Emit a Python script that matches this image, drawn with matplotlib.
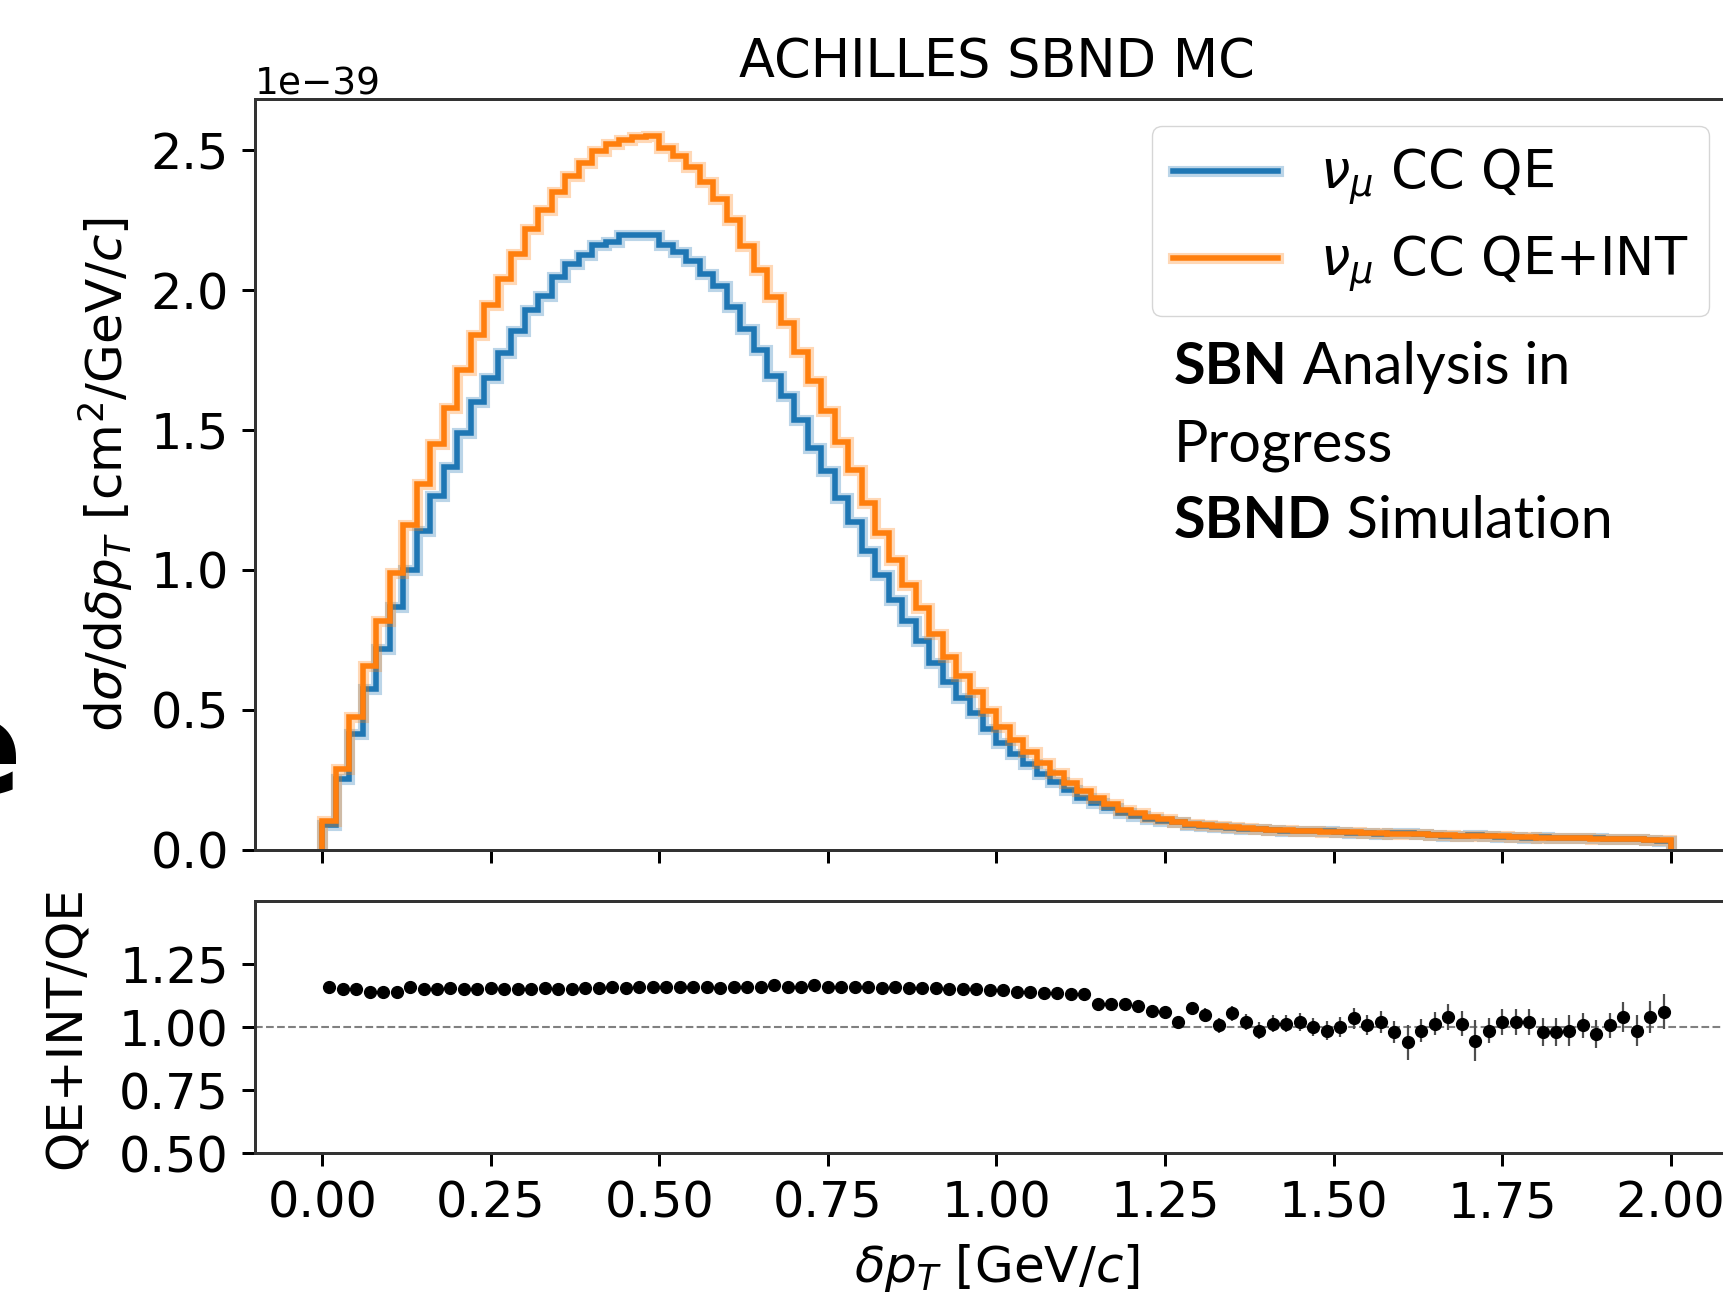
import numpy as np
import matplotlib.pyplot as plt
from matplotlib.lines import Line2D

# d sigma / d delta pT per 0.02 GeV/c bin, in units of 1e-39 cm^2/(GeV/c)
qe_int = [0.102, 0.289, 0.474, 0.655, 0.818, 0.988, 1.160, 1.308, 1.451, 1.578,
          1.713, 1.839, 1.948, 2.041, 2.130, 2.218, 2.285, 2.352, 2.406, 2.454,
          2.496, 2.521, 2.535, 2.546, 2.550, 2.507, 2.479, 2.440, 2.386, 2.327,
          2.252, 2.159, 2.072, 1.974, 1.881, 1.779, 1.674, 1.569, 1.456, 1.358,
          1.238, 1.133, 1.035, 0.945, 0.862, 0.772, 0.690, 0.622, 0.562, 0.494,
          0.437, 0.391, 0.349, 0.308, 0.272, 0.239, 0.210, 0.183, 0.163, 0.143,
          0.129, 0.117, 0.108, 0.099, 0.092, 0.088, 0.083, 0.080, 0.077, 0.074,
          0.071, 0.069, 0.067, 0.065, 0.064, 0.062, 0.061, 0.060, 0.058, 0.057,
          0.055, 0.054, 0.052, 0.051, 0.050, 0.049, 0.048, 0.047, 0.046, 0.044,
          0.043, 0.042, 0.041, 0.040, 0.039, 0.038, 0.037, 0.036, 0.035, 0.034]

qe = [0.088, 0.251, 0.412, 0.575, 0.718, 0.867, 1.000, 1.137, 1.262, 1.366,
      1.490, 1.599, 1.687, 1.775, 1.852, 1.929, 1.978, 2.045, 2.092, 2.125,
      2.161, 2.173, 2.195, 2.195, 2.198, 2.161, 2.137, 2.103, 2.057, 2.015,
      1.941, 1.861, 1.786, 1.694, 1.622, 1.534, 1.437, 1.353, 1.255, 1.171,
      1.067, 0.981, 0.892, 0.818, 0.746, 0.668, 0.600, 0.541, 0.489, 0.431,
      0.382, 0.343, 0.306, 0.271, 0.240, 0.212, 0.186, 0.168, 0.150, 0.131,
      0.119, 0.110, 0.102, 0.097, 0.086, 0.084, 0.082, 0.076, 0.075, 0.075,
      0.070, 0.068, 0.066, 0.065, 0.065, 0.062, 0.059, 0.060, 0.057, 0.058,
      0.059, 0.055, 0.051, 0.049, 0.049, 0.052, 0.049, 0.046, 0.045, 0.043,
      0.044, 0.043, 0.042, 0.040, 0.040, 0.038, 0.036, 0.037, 0.034, 0.032]

# QE+INT / QE ratio per bin, with its uncertainty
ratio = [1.16, 1.15, 1.15, 1.14, 1.14, 1.14, 1.16, 1.15, 1.15, 1.155,
         1.15, 1.15, 1.155, 1.15, 1.15, 1.15, 1.155, 1.15, 1.15, 1.155,
         1.155, 1.16, 1.155, 1.16, 1.16, 1.16, 1.16, 1.16, 1.16, 1.155,
         1.16, 1.16, 1.16, 1.165, 1.16, 1.16, 1.165, 1.16, 1.16, 1.16,
         1.16, 1.155, 1.16, 1.155, 1.155, 1.155, 1.15, 1.15, 1.15, 1.145,
         1.145, 1.14, 1.14, 1.135, 1.135, 1.13, 1.13, 1.09, 1.09, 1.09,
         1.085, 1.065, 1.06, 1.02, 1.075, 1.047, 1.007, 1.054, 1.02, 0.986,
         1.014, 1.014, 1.02, 1.0, 0.986, 1.0, 1.034, 1.007, 1.02, 0.98,
         0.94, 0.986, 1.014, 1.04, 1.014, 0.946, 0.986, 1.02, 1.02, 1.02,
         0.98, 0.98, 0.986, 1.007, 0.973, 1.007, 1.04, 0.986, 1.04, 1.061]

ratio_err = [0.012] * 50 + [0.013] * 7 + [0.018] * 7 + \
    [0.025, 0.028, 0.03, 0.03, 0.03, 0.032, 0.032, 0.035, 0.035, 0.035, 0.038, 0.04,
     0.04, 0.04, 0.042, 0.045, 0.07, 0.045, 0.045, 0.05, 0.05, 0.08, 0.05, 0.05,
     0.05, 0.05, 0.055, 0.055, 0.06, 0.05, 0.055, 0.05, 0.06, 0.06, 0.065, 0.07]

edges = np.linspace(0, 2, 101)
centers = 0.5 * (edges[:-1] + edges[1:])

blue = '#1f77b4'
orange = '#ff7f0e'

plt.rcParams.update({
    'axes.linewidth': 2.16,
    'axes.edgecolor': '0.2',
    'xtick.major.width': 2.16,
    'ytick.major.width': 2.16,
    'xtick.major.size': 9.45,
    'ytick.major.size': 9.45,
    'xtick.major.pad': 9.45,
    'ytick.major.pad': 9.45,
    'xtick.labelsize': 35.5,
    'ytick.labelsize': 35.5,
    'axes.labelsize': 36,
    'axes.labelpad': 10.8,
    'legend.fontsize': 37.8,
})

fig = plt.figure(figsize=(17.23, 12.97), dpi=100)
ax1 = fig.add_axes([0.148, 0.345, 0.8607, 0.5787])
ax2 = fig.add_axes([0.148, 0.111, 0.8607, 0.1943], sharex=ax1)

# --- top panel: cross sections ---
ax1.stairs(np.array(qe) * 1e-39, edges, color=blue, lw=8, alpha=0.3)
ax1.stairs(np.array(qe) * 1e-39, edges, color=blue, lw=4)
ax1.stairs(np.array(qe_int) * 1e-39, edges, color=orange, lw=8, alpha=0.3)
ax1.stairs(np.array(qe_int) * 1e-39, edges, color=orange, lw=4)

ax1.set_xlim(-0.1, 2.1)
ax1.set_ylim(0, 2.683e-39)
ax1.set_yticks(np.arange(0, 2.51, 0.5) * 1e-39)
ax1.tick_params(labelbottom=False)
ax1.yaxis.get_offset_text().set_fontsize(27)
ax1.set_title('ACHILLES SBND MC', fontsize=37.8, pad=16)
ax1.set_ylabel(r'd$\sigma$/d$\delta p_T$ [cm$^2$/GeV/$c$]')

h_qe = (Line2D([], [], color=blue, lw=8, alpha=0.3), Line2D([], [], color=blue, lw=4))
h_int = (Line2D([], [], color=orange, lw=8, alpha=0.3), Line2D([], [], color=orange, lw=4))
leg = ax1.legend([h_qe, h_int], [r'$\nu_\mu$ CC QE', r'$\nu_\mu$ CC QE+INT'],
                 loc='upper right', bbox_to_anchor=(0.9919, 0.9029),
                 bbox_transform=fig.transFigure, borderaxespad=0)

# --- bottom panel: ratio ---
ax2.axhline(1.0, ls='--', color='grey', lw=1.5)
ax2.errorbar(centers, ratio, yerr=ratio_err, fmt='.', color='k', ms=17,
             ecolor='0.3', elinewidth=1.6)
ax2.set_ylim(0.5, 1.5)
ax2.set_yticks([0.5, 0.75, 1.0, 1.25])
ax2.set_xticks(np.arange(0, 2.01, 0.25))
ax2.set_xlabel(r'$\delta p_T$ [GeV/$c$]')
ax2.set_ylabel('QE+INT/QE', labelpad=20)

# slide annotation next to the legend
fig.canvas.draw()
renderer = fig.canvas.get_renderer()
lines = [('SBN', ' Analysis in', 384), ('', 'Progress', 461), ('SBND', ' Simulation', 538)]
for bold, rest, ypix in lines:
    x0 = 1174 / 1723
    y0 = 1 - ypix / 1297
    if bold:
        t = fig.text(x0, y0, bold, fontsize=41.5, fontweight='bold', family='Lato', va='baseline')
        bb = t.get_window_extent(renderer)
        x0 = bb.x1 / fig.bbox.width
    fig.text(x0, y0, rest, fontsize=41.5, family='Lato', va='baseline')

# cut-off letter from the slide at the left edge
fig.text(22 / 1723, 1 - 794 / 1297, 'e', fontsize=96, fontweight='bold',
         ha='right', va='baseline')

fig.savefig('out.png', dpi=100)
